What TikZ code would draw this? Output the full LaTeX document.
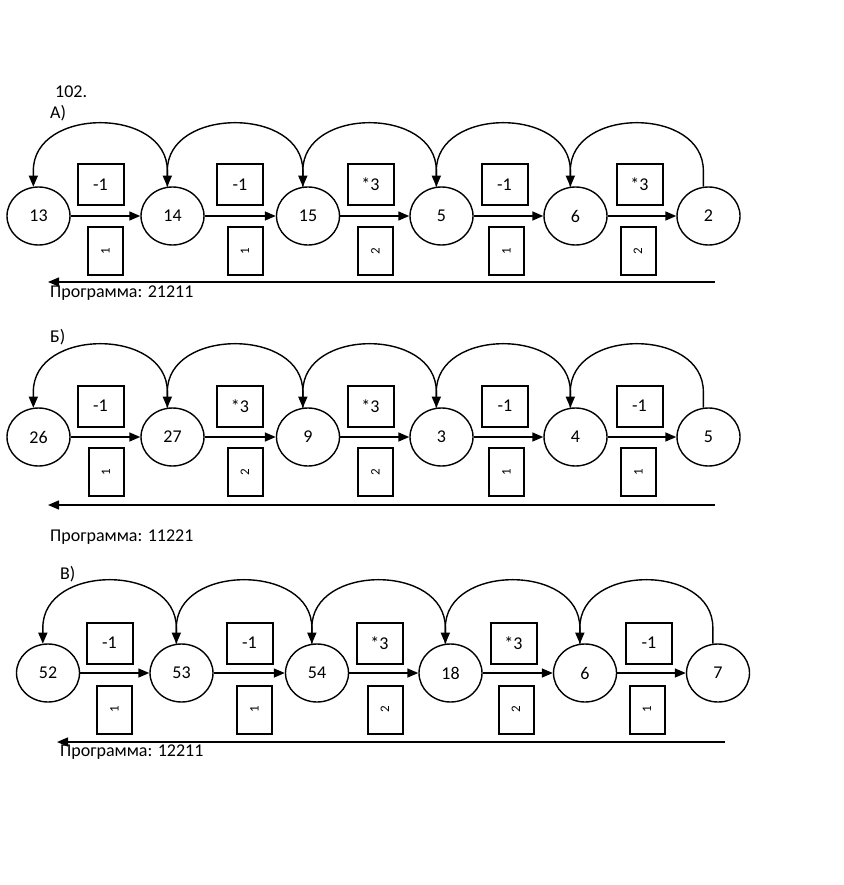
\documentclass[tikz,border=0pt]{standalone}
\usepackage{fontspec}
\setmainfont{Carlito}
\usetikzlibrary{shapes.geometric,arrows.meta}
\tikzset{
    num/.style={ellipse, draw, line width=1.4pt, minimum width=63pt, minimum height=58pt, inner sep=0pt},
    opbox/.style={draw, line width=2pt, minimum width=46pt, minimum height=41pt, inner sep=0pt},
    cmdbox/.style={draw, line width=2pt, rotate=90, minimum width=48pt, minimum height=35pt, inner sep=0pt, font=\fontsize{13}{15}\selectfont},
    fwd/.style={-{Triangle[length=11pt,width=9pt]}, line width=1.4pt},
    ret/.style={-{Triangle[length=11pt,width=9pt]}, line width=1.4pt},
    lbl/.style={anchor=base west, inner sep=0pt},
}
\newcommand{\BackArc}[2]{
    \draw[ret] (#1.100) -- ++(0,-16) .. controls +(0,-64) and +(0,-64) .. ([yshift=16pt]#2.100) -- (#2.100);
}

\begin{document}
\begin{tikzpicture}[x=1pt, y=-1pt, font=\fontsize{18}{21}\selectfont]
    \useasboundingbox (0,0) rectangle (843,885);
    \node (title) at (55,98) [lbl] {102.};
    % row A
    \node (labA) at (50,119) [lbl] {А)};
    \node (a1) at (38.5,216) [num] {13};
    \node (a2) at (172.5,216) [num] {14};
    \node (a3) at (308,216) [num] {15};
    \node (a4) at (441.5,216) [num] {5};
    \node (a5) at (575.5,216) [num] {6};
    \node (a6) at (708.5,216) [num] {2};
    \node (ao1) at (100.5,184.5) [opbox] {-1};
    \node (ao2) at (240,184.5) [opbox] {-1};
    \node (ao3) at (370.5,184.5) [opbox] {*3};
    \node (ao4) at (504.5,184.5) [opbox] {-1};
    \node (ao5) at (639.5,184.5) [opbox] {*3};
    \node (ac1) at (105.5,251) [cmdbox] {1};
    \node (ac2) at (245,251) [cmdbox] {1};
    \node (ac3) at (375.5,251) [cmdbox] {2};
    \node (ac4) at (506.5,251) [cmdbox] {1};
    \node (ac5) at (638,251) [cmdbox] {2};
    \draw[fwd] (a1) -- (a2);
    \draw[fwd] (a2) -- (a3);
    \draw[fwd] (a3) -- (a4);
    \draw[fwd] (a4) -- (a5);
    \draw[fwd] (a5) -- (a6);
    \BackArc{a2}{a1}
    \BackArc{a3}{a2}
    \BackArc{a4}{a3}
    \BackArc{a5}{a4}
    \BackArc{a6}{a5}
    \coordinate (aR) at (715,282);
    \coordinate (aL) at (48,282);
    \draw[ret] (aR) -- (aL);
    \node (progA) at (50,297) [lbl] {Программа: 21211};
    % row B
    \node (labB) at (50,342) [lbl] {Б)};
    \node (b1) at (38.5,437) [num] {26};
    \node (b2) at (172.5,437) [num] {27};
    \node (b3) at (308,437) [num] {9};
    \node (b4) at (441.5,437) [num] {3};
    \node (b5) at (575.5,437) [num] {4};
    \node (b6) at (708.5,437) [num] {5};
    \node (bo1) at (100.5,406) [opbox] {-1};
    \node (bo2) at (240,406) [opbox] {*3};
    \node (bo3) at (370.5,406) [opbox] {*3};
    \node (bo4) at (505,406) [opbox] {-1};
    \node (bo5) at (639.5,406) [opbox] {-1};
    \node (bc1) at (106,472) [cmdbox] {1};
    \node (bc2) at (245,472) [cmdbox] {2};
    \node (bc3) at (375.5,472) [cmdbox] {2};
    \node (bc4) at (506.5,472) [cmdbox] {1};
    \node (bc5) at (638.5,472) [cmdbox] {1};
    \draw[fwd] (b1) -- (b2);
    \draw[fwd] (b2) -- (b3);
    \draw[fwd] (b3) -- (b4);
    \draw[fwd] (b4) -- (b5);
    \draw[fwd] (b5) -- (b6);
    \BackArc{b2}{b1}
    \BackArc{b3}{b2}
    \BackArc{b4}{b3}
    \BackArc{b5}{b4}
    \BackArc{b6}{b5}
    \coordinate (bR) at (715,505);
    \coordinate (bL) at (48,505);
    \draw[ret] (bR) -- (bL);
    \node (progB) at (50,541) [lbl] {Программа: 11221};
    % row C
    \node (labC) at (60,579) [lbl] {В)};
    \node (c1) at (48,673) [num] {52};
    \node (c2) at (181.5,673) [num] {53};
    \node (c3) at (317,673) [num] {54};
    \node (c4) at (450.5,673) [num] {18};
    \node (c5) at (585,673) [num] {6};
    \node (c6) at (718,673) [num] {7};
    \node (co1) at (109.5,643) [opbox] {-1};
    \node (co2) at (249.5,643) [opbox] {-1};
    \node (co3) at (379.5,643) [opbox] {*3};
    \node (co4) at (513.5,643) [opbox] {*3};
    \node (co5) at (649,643) [opbox] {-1};
    \node (cc1) at (114.5,709.5) [cmdbox] {1};
    \node (cc2) at (254.5,709.5) [cmdbox] {1};
    \node (cc3) at (385,709.5) [cmdbox] {2};
    \node (cc4) at (516,709.5) [cmdbox] {2};
    \node (cc5) at (647,709.5) [cmdbox] {1};
    \draw[fwd] (c1) -- (c2);
    \draw[fwd] (c2) -- (c3);
    \draw[fwd] (c3) -- (c4);
    \draw[fwd] (c4) -- (c5);
    \draw[fwd] (c5) -- (c6);
    \BackArc{c2}{c1}
    \BackArc{c3}{c2}
    \BackArc{c4}{c3}
    \BackArc{c5}{c4}
    \BackArc{c6}{c5}
    \coordinate (cR) at (725,742);
    \coordinate (cL) at (57,742);
    \draw[ret] (cR) -- (cL);
    \node (progC) at (60,756) [lbl] {Программа: 12211};
\end{tikzpicture}
\end{document}
